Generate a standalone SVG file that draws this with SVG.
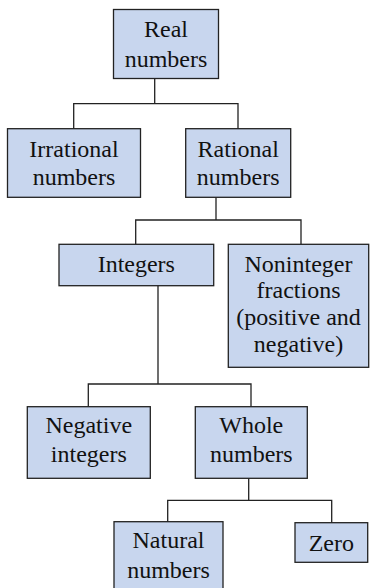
<svg xmlns="http://www.w3.org/2000/svg" width="370" height="588" viewBox="0 0 370 588">
<style>
text{font-family:'Liberation Serif','Times New Roman',serif !important;font-size:24px;fill:#111;text-anchor:middle}
.box{fill:#c8d6ee;stroke:#222;stroke-width:1.3}
.c{fill:none;stroke:#222;stroke-width:1.3}
</style>
<rect width="370" height="588" fill="#fff"/>
<g id="connectors">
<path class="c" d="M154.7 78.7V103.7M73.7 128.7V103.7H238V128.7"/>
<path class="c" d="M216 197.3V220M135.7 244.3V220H301V244.3"/>
<path class="c" d="M158 285.7V384M88.3 406.7V384H251V406.7"/>
<path class="c" d="M248.7 478.3V500.3M167.7 521.7V500.3H331.7V522.7"/>
</g>
<g id="real"><rect class="box" x="113.5" y="9.5" width="105" height="69"/>
<text style="font-family:'Liberation Serif',serif !important" x="166" y="37">Real</text><text style="font-family:'Liberation Serif',serif !important" x="166" y="67">numbers</text></g>
<g id="irrational"><rect class="box" x="7.5" y="128.7" width="133" height="68.6"/>
<text style="font-family:'Liberation Serif',serif !important" x="74" y="156.7">Irrational</text><text style="font-family:'Liberation Serif',serif !important" x="74" y="185">numbers</text></g>
<g id="rational"><rect class="box" x="185.7" y="128.7" width="105" height="68.6"/>
<text style="font-family:'Liberation Serif',serif !important" x="238.2" y="156.7">Rational</text><text style="font-family:'Liberation Serif',serif !important" x="238.2" y="185">numbers</text></g>
<g id="integers"><rect class="box" x="59" y="244.3" width="154.7" height="41.4"/>
<text style="font-family:'Liberation Serif',serif !important" x="136.3" y="271.7">Integers</text></g>
<g id="noninteger"><rect class="box" x="228.3" y="244.3" width="140.4" height="123"/>
<text style="font-family:'Liberation Serif',serif !important" x="298.5" y="271.7">Noninteger</text><text style="font-family:'Liberation Serif',serif !important" x="298.5" y="298.3">fractions</text><text style="font-family:'Liberation Serif',serif !important" x="298.5" y="325">(positive and</text><text style="font-family:'Liberation Serif',serif !important" x="298.5" y="351.7">negative)</text></g>
<g id="negative"><rect class="box" x="27.3" y="406.7" width="123" height="71.6"/>
<text style="font-family:'Liberation Serif',serif !important" x="88.8" y="433.3">Negative</text><text style="font-family:'Liberation Serif',serif !important" x="88.8" y="461.7">integers</text></g>
<g id="whole"><rect class="box" x="195.3" y="406.7" width="112" height="71.6"/>
<text style="font-family:'Liberation Serif',serif !important" x="251.3" y="433.3">Whole</text><text style="font-family:'Liberation Serif',serif !important" x="251.3" y="461.7">numbers</text></g>
<g id="natural"><rect class="box" x="114" y="521.7" width="109" height="72"/>
<text style="font-family:'Liberation Serif',serif !important" x="168.5" y="548.3">Natural</text><text style="font-family:'Liberation Serif',serif !important" x="168.5" y="578.3">numbers</text></g>
<g id="zero"><rect class="box" x="295" y="522.7" width="72.7" height="39.6"/>
<text style="font-family:'Liberation Serif',serif !important" x="331.3" y="550.7">Zero</text></g>
</svg>
